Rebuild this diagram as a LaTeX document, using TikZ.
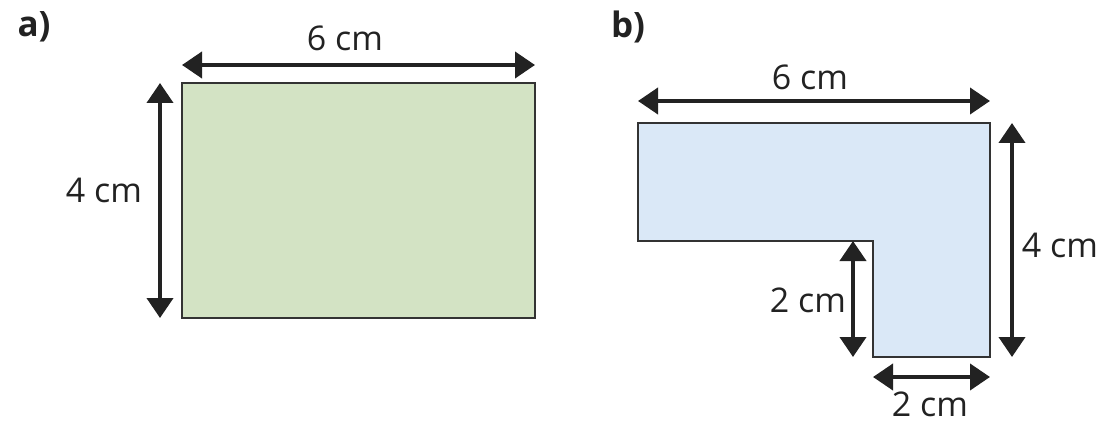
\documentclass[tikz,border=0pt]{standalone}
\usepackage{fontspec}
\setmainfont{Open Sans}
\usetikzlibrary{arrows.meta}
\definecolor{ink}{HTML}{222222}
\definecolor{edge}{HTML}{333333}
\definecolor{greenfill}{HTML}{D3E3C4}
\definecolor{bluefill}{HTML}{DAE8F7}
\tikzset{
  dim/.style={ink, line width=4pt, {Triangle[length=20pt,width=26pt]}-{Triangle[length=20pt,width=26pt]}},
  shapeedge/.style={draw=edge, line width=2.6pt},
  lbl/.style={text=ink, font=\fontsize{34}{40}\selectfont, inner sep=0pt},
  tag/.style={text=ink, font=\fontsize{35}{40}\selectfont\bfseries, inner sep=0pt},
}
\begin{document}
\begin{tikzpicture}[x=1pt,y=-1pt]
\useasboundingbox (0,0) rectangle (1100,425);
% part a
\node[tag] (taga) at (34,27) {a)};
\coordinate (a1) at (182,83);
\coordinate (a2) at (535,83);
\coordinate (a3) at (535,318);
\coordinate (a4) at (182,318);
\draw[shapeedge, fill=greenfill] (a1) -- (a2) -- (a3) -- (a4) -- cycle;
\coordinate (at1) at (182,65);
\coordinate (at2) at (535,65);
\draw[dim] (at1) -- (at2);
\node[lbl] (la6) at (345,38) {6 cm};
\coordinate (al1) at (160,83);
\coordinate (al2) at (160,318);
\draw[dim] (al1) -- (al2);
\node[lbl] (la4) at (104,190) {4 cm};
% part b
\node[tag] (tagb) at (628,27) {b)};
\coordinate (b1) at (638,123);
\coordinate (b2) at (990,123);
\coordinate (b3) at (990,357);
\coordinate (b4) at (873,357);
\coordinate (b5) at (873,241);
\coordinate (b6) at (638,241);
\draw[shapeedge, fill=bluefill] (b1) -- (b2) -- (b3) -- (b4) -- (b5) -- (b6) -- cycle;
\coordinate (bt1) at (638,101);
\coordinate (bt2) at (990,101);
\draw[dim] (bt1) -- (bt2);
\node[lbl] (lb6) at (810,77) {6 cm};
\coordinate (br1) at (1012,123);
\coordinate (br2) at (1012,357);
\draw[dim] (br1) -- (br2);
\node[lbl] (lb4) at (1060,245) {4 cm};
\coordinate (bi1) at (853,241);
\coordinate (bi2) at (853,357);
\draw[dim] (bi1) -- (bi2);
\node[lbl] (lb2a) at (808,300) {2 cm};
\coordinate (bb1) at (873,377);
\coordinate (bb2) at (990,377);
\draw[dim] (bb1) -- (bb2);
\node[lbl] (lb2b) at (930,404) {2 cm};
\end{tikzpicture}
\end{document}
